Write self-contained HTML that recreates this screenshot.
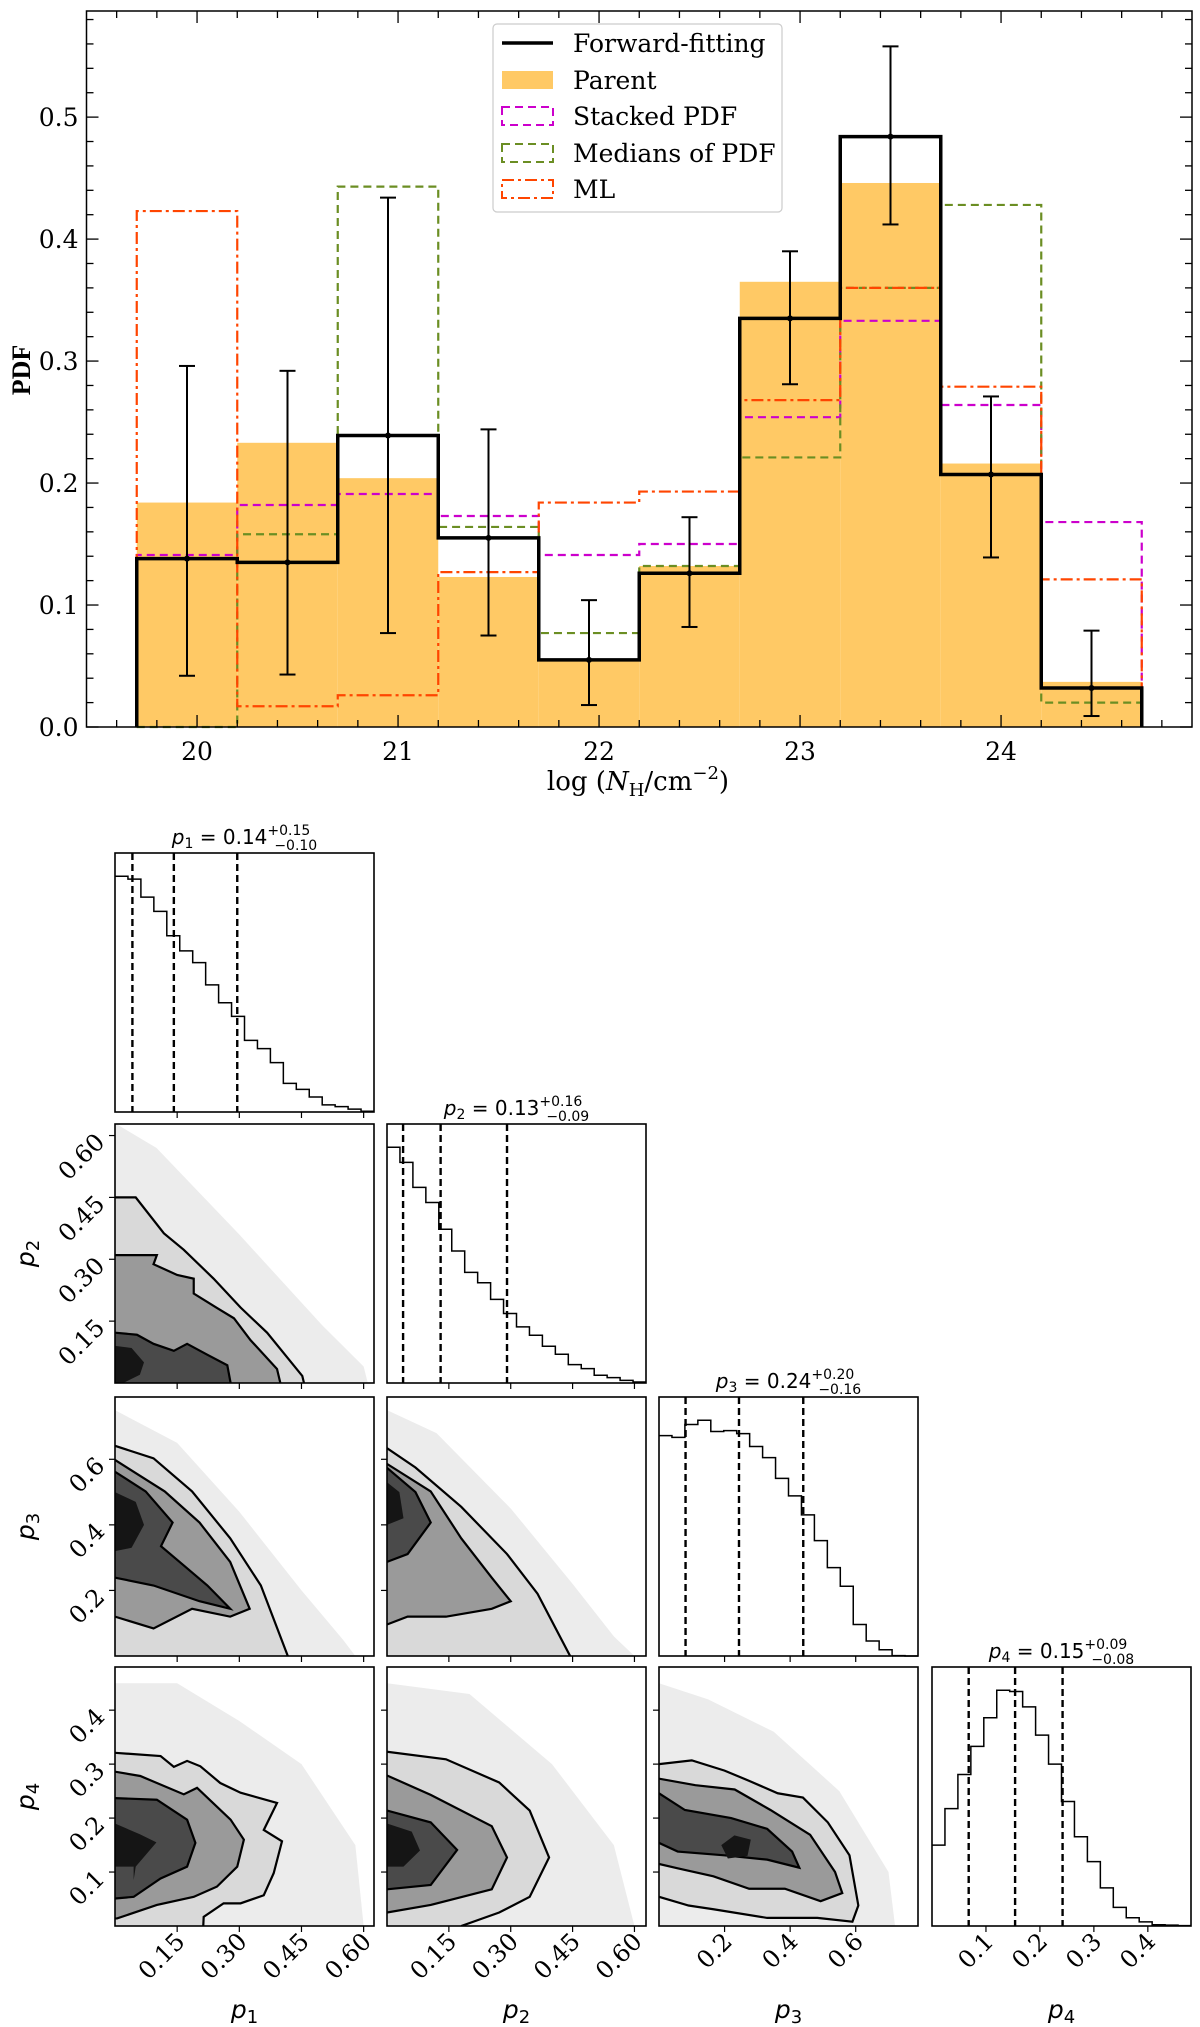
<!DOCTYPE html>
<html><head><meta charset="utf-8"><style>
html,body{margin:0;padding:0;background:#fff}
svg{display:block}
.serif{font-family:"DejaVu Serif","Liberation Serif",serif}
.lserif{font-family:"Liberation Serif","DejaVu Serif",serif}
.sans{font-family:"DejaVu Sans","Liberation Sans",sans-serif}
</style></head><body>
<svg id="fig" xmlns="http://www.w3.org/2000/svg" width="1200" height="2027" viewBox="0 0 1200 2027">
<g id="top"></g>
<g id="corner"></g>
</svg>
<script>
// ---------- Top chart data ----------
const binEdges = [19.7,20.2,20.7,21.2,21.7,22.2,22.7,23.2,23.7,24.2,24.7];
const parentVals = [0.184,0.233,0.204,0.123,0.055,0.132,0.365,0.446,0.216,0.037];
const forwardVals = [0.138,0.135,0.239,0.155,0.055,0.126,0.335,0.484,0.207,0.032];
const errLow = [0.042,0.043,0.077,0.075,0.018,0.082,0.281,0.412,0.139,0.009];
const errHigh = [0.296,0.292,0.434,0.244,0.104,0.172,0.390,0.558,0.271,0.079];
const stackedVals = [0.141,0.182,0.191,0.173,0.141,0.150,0.254,0.333,0.264,0.168];
const medianVals = [0.0,0.158,0.443,0.164,0.077,0.132,0.221,0.360,0.428,0.020];
const mlVals = [0.423,0.017,0.026,0.127,0.184,0.193,0.268,0.360,0.279,0.121];
const xTicks = [20,21,22,23,24];
const yTicks = [0.0,0.1,0.2,0.3,0.4,0.5];

// ---------- Corner data ----------
const p1Hist = [658,650,600,560,492,450,417,355,305,267,200,177,138,80,63,42,20,15,8,2];
const p2Hist = [705,660,585,540,460,395,331,300,250,208,168,143,110,86,55,43,23,16,8,3];
const p3Hist = [531,527,558,568,541,543,536,505,478,428,386,340,278,213,168,76,36,15,1,0];
const p4Hist = [195,283,365,433,502,568,565,528,460,390,300,215,155,92,45,20,10,3,2,1];
const quantiles = [[0.042,0.142,0.295],[0.039,0.130,0.291],[0.081,0.244,0.440],[0.068,0.154,0.242]];
const titleVals = [["0.14","+0.15","\u22120.10"],["0.13","+0.16","\u22120.09"],["0.24","+0.20","\u22120.16"],["0.15","+0.09","\u22120.08"]];
const paramMax = [0.625,0.628,0.79,0.48];
const cornerTicks = [[0.15,0.30,0.45,0.60],[0.15,0.30,0.45,0.60],[0.2,0.4,0.6],[0.1,0.2,0.3,0.4]];
const cornerTickLabels = [["0.15","0.30","0.45","0.60"],["0.15","0.30","0.45","0.60"],["0.2","0.4","0.6"],["0.1","0.2","0.3","0.4"]];

// 2D panel contours (data coords): cloud, outer, middle, inner, core
const c12 = {
  cloud:[[0,0.63],[0.1,0.57],[0.3,0.36],[0.5,0.14],[0.6,0.04],[0.61,0]],
  outer:[[0,0.45],[0.05,0.45],[0.118,0.363],[0.166,0.323],[0.238,0.253],[0.303,0.183],[0.367,0.122],[0.452,0.017],[0.456,0]],
  middle:[[0,0.31],[0.101,0.31],[0.093,0.288],[0.150,0.262],[0.190,0.253],[0.190,0.217],[0.246,0.182],[0.287,0.157],[0.327,0.104],[0.391,0.034],[0.399,0]],
  inner:[[0,0.122],[0.053,0.117],[0.093,0.095],[0.142,0.078],[0.174,0.095],[0.222,0.069],[0.271,0.043],[0.279,0]],
  core:[[0,0.09],[0.04,0.085],[0.07,0.05],[0.06,0.02],[0.02,0],[0,0]]
};
const c13 = {
  cloud:[[0,0.75],[0.15,0.65],[0.3,0.44],[0.45,0.2],[0.55,0.05],[0.58,0]],
  outer:[[0,0.641],[0.093,0.603],[0.186,0.502],[0.278,0.359],[0.352,0.215],[0.417,0]],
  middle:[[0,0.598],[0.12,0.502],[0.204,0.407],[0.278,0.287],[0.325,0.144],[0.278,0.12],[0.186,0.144],[0.093,0.084],[0,0.12]],
  inner:[[0,0.562],[0.074,0.502],[0.139,0.407],[0.111,0.335],[0.167,0.275],[0.223,0.215],[0.278,0.144],[0.204,0.167],[0.093,0.215],[0,0.239]],
  core:[[0,0.5],[0.05,0.47],[0.07,0.4],[0.04,0.33],[0,0.32]]
};
const c23 = {
  cloud:[[0,0.75],[0.12,0.68],[0.3,0.45],[0.45,0.22],[0.55,0.06],[0.6,0]],
  outer:[[0,0.634],[0.069,0.575],[0.18,0.455],[0.291,0.311],[0.365,0.19],[0.444,0]],
  middle:[[0,0.586],[0.106,0.502],[0.18,0.359],[0.254,0.239],[0.3,0.167],[0.254,0.144],[0.143,0.12],[0.05,0.12],[0,0.096]],
  inner:[[0,0.574],[0.069,0.5],[0.106,0.407],[0.05,0.311],[0,0.287]],
  core:[[0,0.53],[0.03,0.5],[0.04,0.42],[0,0.4]]
};
const c14 = {
  cloud:[[0,0.45],[0.15,0.45],[0.3,0.38],[0.45,0.3],[0.58,0.15],[0.6,0]],
  outer:[[0,0.321],[0.110,0.315],[0.142,0.295],[0.174,0.306],[0.206,0.296],[0.254,0.265],[0.303,0.247],[0.391,0.228],[0.359,0.178],[0.403,0.157],[0.383,0.098],[0.359,0.057],[0.303,0.042],[0.262,0.042],[0.214,0.017],[0.213,0]],
  middle:[[0,0.286],[0.061,0.278],[0.166,0.244],[0.198,0.256],[0.279,0.197],[0.311,0.160],[0.295,0.110],[0.246,0.073],[0.190,0.054],[0.101,0.039],[0.005,0.014],[0,0.014]],
  inner:[[0,0.237],[0.101,0.234],[0.174,0.197],[0.194,0.154],[0.174,0.110],[0.110,0.088],[0.045,0.054],[0,0.051]],
  core:[[0,0.19],[0.06,0.17],[0.1,0.155],[0.05,0.11],[0.045,0.085],[0.045,0.11],[0,0.11]]
};
const c24 = {
  cloud:[[0,0.45],[0.2,0.43],[0.4,0.3],[0.55,0.15],[0.6,0]],
  outer:[[0,0.323],[0.143,0.309],[0.272,0.266],[0.346,0.214],[0.393,0.127],[0.346,0.054],[0.272,0.025],[0.18,0]],
  middle:[[0,0.279],[0.106,0.243],[0.254,0.185],[0.291,0.127],[0.254,0.068],[0.106,0.039],[0,0.025]],
  inner:[[0,0.214],[0.106,0.192],[0.17,0.141],[0.106,0.076],[0,0.068]],
  core:[[0,0.19],[0.06,0.175],[0.08,0.14],[0.04,0.11],[0,0.11]]
};
const c34 = {
  cloud:[[0,0.45],[0.15,0.42],[0.35,0.36],[0.55,0.25],[0.7,0.1],[0.72,0]],
  outer:[[0,0.30],[0.1,0.307],[0.2,0.288],[0.275,0.269],[0.362,0.246],[0.439,0.238],[0.515,0.192],[0.581,0.131],[0.608,0.038],[0.59,0.008],[0.483,0.015],[0.33,0.015],[0.166,0.031],[0.09,0.038],[0,0.054]],
  middle:[[0,0.273],[0.111,0.261],[0.231,0.253],[0.34,0.215],[0.461,0.169],[0.537,0.1],[0.559,0.061],[0.493,0.046],[0.384,0.069],[0.275,0.069],[0.166,0.092],[0.057,0.107],[0,0.115]],
  inner:[[0,0.246],[0.079,0.215],[0.22,0.2],[0.33,0.18],[0.406,0.138],[0.428,0.108],[0.33,0.123],[0.199,0.131],[0.057,0.138],[0,0.154]],
  core:[[0.19,0.15],[0.23,0.168],[0.28,0.16],[0.27,0.13],[0.21,0.125]]
};

// ---------- helpers ----------
const NS="http://www.w3.org/2000/svg";
function mk(tag,parent,attrs){const e=document.createElementNS(NS,tag);for(const k in attrs)e.setAttribute(k,attrs[k]);parent.appendChild(e);return e;}

// ---------- Top chart ----------
const topG=document.getElementById('top');
const AX={l:86.5,r:1192,t:11,b:727,x0:19.45,x1:24.95,y1:0.587};
const sx=v=>AX.l+(v-AX.x0)/(AX.x1-AX.x0)*(AX.r-AX.l);
const sy=v=>AX.b-v/AX.y1*(AX.b-AX.t);
function stepPath(vals){let d=`M${sx(binEdges[0])},${sy(0)}`;vals.forEach((v,i)=>{d+=` L${sx(binEdges[i])},${sy(v)} L${sx(binEdges[i+1])},${sy(v)}`;});d+=` L${sx(binEdges[binEdges.length-1])},${sy(0)}`;return d;}

parentVals.forEach((v,i)=>{
  const r=mk('rect',topG,{x:sx(binEdges[i]),y:sy(v),width:sx(binEdges[i+1])-sx(binEdges[i]),height:sy(0)-sy(v),fill:'#ffc965'});
  
  
});
const series=[
  {vals:stackedVals,stroke:'#cc00cc',dash:'8,5',w:2.2,name:'stacked-pdf-step'},
  {vals:medianVals,stroke:'#6b8e23',dash:'8,5',w:2.2,name:'medians-pdf-step'},
  {vals:mlVals,stroke:'#ff4500',dash:'12,4,3,4',w:2.2,name:'ml-step'},
];
series.forEach(s=>{
  const p=mk('path',topG,{d:stepPath(s.vals),fill:'none',stroke:s.stroke,'stroke-width':s.w,'stroke-dasharray':s.dash});
  
  
});
const fw=mk('path',topG,{d:stepPath(forwardVals),fill:'none',stroke:'#000','stroke-width':3.5});


forwardVals.forEach((v,i)=>{
  const cx=sx((binEdges[i]+binEdges[i+1])/2);
  const g=mk('g',topG,{});
  
  
  mk('line',g,{x1:cx,x2:cx,y1:sy(errLow[i]),y2:sy(errHigh[i]),stroke:'#000','stroke-width':2});
  mk('line',g,{x1:cx-8,x2:cx+8,y1:sy(errLow[i]),y2:sy(errLow[i]),stroke:'#000','stroke-width':2});
  mk('line',g,{x1:cx-8,x2:cx+8,y1:sy(errHigh[i]),y2:sy(errHigh[i]),stroke:'#000','stroke-width':2});
  mk('circle',g,{cx:cx,cy:sy(v),r:3,fill:'#000'});
});
mk('rect',topG,{x:AX.l,y:AX.t,width:AX.r-AX.l,height:AX.b-AX.t,fill:'none',stroke:'#000','stroke-width':1.5});
for(let k=0;k<=27;k++){const v=19.6+k*0.2;if(v<AX.x0||v>AX.x1)continue;const X=sx(v);const maj=Math.abs(v-Math.round(v))<1e-6;const L=maj?12:7;
  mk('line',topG,{x1:X,x2:X,y1:AX.b,y2:AX.b-L,stroke:'#000','stroke-width':1.3});
  mk('line',topG,{x1:X,x2:X,y1:AX.t,y2:AX.t+L,stroke:'#000','stroke-width':1.3});}
for(let k=0;k<=29;k++){const v=k*0.02;if(v>AX.y1)continue;const Y=sy(v);const maj=(k%5===0);const L=maj?12:7;
  mk('line',topG,{x1:AX.l,x2:AX.l+L,y1:Y,y2:Y,stroke:'#000','stroke-width':1.3});
  mk('line',topG,{x1:AX.r,x2:AX.r-L,y1:Y,y2:Y,stroke:'#000','stroke-width':1.3});}
xTicks.forEach(t=>{const tx=mk('text',topG,{x:sx(t),y:AX.b+33,'text-anchor':'middle','font-size':25,class:'serif'});tx.textContent=String(t);
  });
yTicks.forEach(t=>{const tx=mk('text',topG,{x:AX.l-8,y:sy(t)+9,'text-anchor':'end','font-size':25,class:'serif'});tx.textContent=t.toFixed(1);
  });
</script>
<script>
(function(){
const topG=document.getElementById('top');
const NS="http://www.w3.org/2000/svg";
function mk(tag,parent,attrs){const e=document.createElementNS(NS,tag);for(const k in attrs)e.setAttribute(k,attrs[k]);parent.appendChild(e);return e;}
const yl=mk('text',topG,{x:0,y:0,transform:'translate(30,370) rotate(-90)','text-anchor':'middle','font-size':26,'font-weight':'bold',class:'lserif'});yl.textContent='PDF';

const xl=mk('text',topG,{x:638,y:790,'text-anchor':'middle','font-size':26,class:'serif'});

xl.innerHTML='log (<tspan font-style="italic">N</tspan><tspan font-size="18" dy="6">H</tspan><tspan dy="-6">/cm</tspan><tspan font-size="18" dy="-11">\u22122</tspan><tspan dy="11">)</tspan>';
const lg=mk('g',topG,{});
mk('rect',lg,{x:493,y:24,width:289,height:188,rx:4,fill:'#fff','fill-opacity':0.85,stroke:'#ccc','stroke-width':1.2});
const rows=[43,80,116,153,189];
const labels=['Forward-fitting','Parent','Stacked PDF','Medians of PDF','ML'];
mk('line',lg,{x1:502,x2:553,y1:rows[0],y2:rows[0],stroke:'#000','stroke-width':3.5});
mk('rect',lg,{x:502,y:rows[1]-9,width:51,height:18,fill:'#ffc965'});
mk('rect',lg,{x:502,y:rows[2]-9,width:51,height:18,fill:'none',stroke:'#cc00cc','stroke-width':2,'stroke-dasharray':'8,5'});
mk('rect',lg,{x:502,y:rows[3]-9,width:51,height:18,fill:'none',stroke:'#6b8e23','stroke-width':2,'stroke-dasharray':'8,5'});
mk('rect',lg,{x:502,y:rows[4]-9,width:51,height:18,fill:'none',stroke:'#ff4500','stroke-width':2,'stroke-dasharray':'12,4,3,4'});
labels.forEach((t,i)=>{const e=mk('text',lg,{x:573,y:rows[i]+9,'font-size':25,class:'serif'});e.textContent=t;
  });
})();
</script>
<script>
(function(){
const cg=document.getElementById('corner');
const NS="http://www.w3.org/2000/svg";
function mk(tag,parent,attrs){const e=document.createElementNS(NS,tag);for(const k in attrs)e.setAttribute(k,attrs[k]);parent.appendChild(e);return e;}
const colX=[115,387,659,932], rowY=[853,1124,1397,1667], S=259;
const hists=[p1Hist,p2Hist,p3Hist,p4Hist];
const pair={"1,0":c12,"2,0":c13,"2,1":c23,"3,0":c14,"3,1":c24,"3,2":c34};
const sxp=(j,v)=>colX[j]+v/paramMax[j]*S;
const syp=(i,v)=>rowY[i]+S-v/paramMax[i]*S;
let clipId=0;
for(let i=0;i<4;i++){for(let j=0;j<=i;j++){
  const g=mk('g',cg,{});
  
  
  const x0=colX[j],y0=rowY[i];
  if(i===j){
    const h=hists[i],n=h.length,mx=Math.max(...h)/0.91,bw=paramMax[i]/n;
    const yv=v=>y0+S-v/mx*S;
    let d=`M${sxp(j,0)},${yv(h[0])}`;
    h.forEach((v,k)=>{d+=` L${sxp(j,k*bw)},${yv(v)} L${sxp(j,(k+1)*bw)},${yv(v)}`;});
    const p=mk('path',g,{d:d,fill:'none',stroke:'#000','stroke-width':1.5});
    
    quantiles[i].forEach(q=>{const l=mk('line',g,{x1:sxp(j,q),x2:sxp(j,q),y1:y0,y2:y0+S,stroke:'#000','stroke-width':2.4,'stroke-dasharray':'7,4'});
      });
    const tv=titleVals[i];
    const t=mk('text',g,{x:x0+S/2,y:y0-9,'text-anchor':'middle','font-size':20,class:'sans'});
    t.innerHTML=`<tspan font-style="italic">p</tspan><tspan font-size="14" dy="4">${i+1}</tspan><tspan dy="-4"> = ${tv[0]}</tspan><tspan font-size="14" dy="-9">${tv[1]}</tspan><tspan font-size="14" dx="-36" dy="15">${tv[2]}</tspan>`;
    
  } else {
    const c=pair[i+','+j];
    const cid='clip'+(clipId++);
    const cp=mk('clipPath',g,{id:cid});mk('rect',cp,{x:x0,y:y0,width:S,height:S});
    const inner=mk('g',g,{'clip-path':`url(#${cid})`});
    const poly=(pts,fill,stroke)=>{
      let d='';pts.forEach((p,k)=>{d+=(k?' L':'M')+sxp(j,p[0])+','+syp(i,p[1]);});
      const first=pts[0],last=pts[pts.length-1];
      let fd;
      if(first[0]===0 && last[1]===0 && last[0]!==0){fd=d+` L${sxp(j,0)},${syp(i,0)} Z`;}
      else {fd=d+' Z';}
      const f=mk('path',inner,{d:fd,fill:fill,stroke:'none'});
      
      if(stroke){const s=mk('path',inner,{d:d,fill:'none',stroke:'#000','stroke-width':2.2});
        }
    };
    poly(c.cloud,'#ececec',false);
    poly(c.outer,'#d9d9d9',true);
    poly(c.middle,'#9a9a9a',true);
    poly(c.inner,'#4a4a4a',true);
    poly(c.core,'#151515',false);
  }
  mk('rect',g,{x:x0,y:y0,width:S,height:S,fill:'none',stroke:'#000','stroke-width':1.6});
  cornerTicks[j].forEach((t,k)=>{const X=sxp(j,t);mk('line',g,{x1:X,x2:X,y1:y0+S,y2:y0+S+6,stroke:'#000','stroke-width':1.2});
    if(i===3){const tx=mk('text',g,{x:0,y:0,transform:`translate(${X+9},${y0+S+17}) rotate(-45)`,'text-anchor':'end','font-size':24,class:'serif'});tx.textContent=cornerTickLabels[j][k];
      }});
  if(j===0 && i>0){cornerTicks[i].forEach((t,k)=>{const Y=syp(i,t);mk('line',g,{x1:x0-6,x2:x0,y1:Y,y2:Y,stroke:'#000','stroke-width':1.2});
    const tx=mk('text',g,{x:0,y:0,transform:`translate(${x0-9},${Y+8}) rotate(-45)`,'text-anchor':'end','font-size':24,class:'serif'});tx.textContent=cornerTickLabels[i][k];
    });}
  else if(j>0 && i!==j){cornerTicks[i].forEach(t=>{const Y=syp(i,t);mk('line',g,{x1:x0-6,x2:x0,y1:Y,y2:Y,stroke:'#000','stroke-width':1.2});});}
}}
for(let k=0;k<4;k++){
  const xl=mk('text',cg,{x:colX[k]+S/2,y:2018,'text-anchor':'middle','font-size':25,class:'sans'});
  xl.innerHTML=`<tspan font-style="italic">p</tspan><tspan font-size="18" dy="5">${k+1}</tspan>`;
  
  if(k>0){const yl=mk('text',cg,{x:0,y:0,transform:`translate(34,${rowY[k]+S/2}) rotate(-90)`,'text-anchor':'middle','font-size':25,class:'sans'});
    yl.innerHTML=`<tspan font-style="italic">p</tspan><tspan font-size="18" dy="5">${k+1}</tspan>`;
    }
}
})();
</script>
</body></html>
